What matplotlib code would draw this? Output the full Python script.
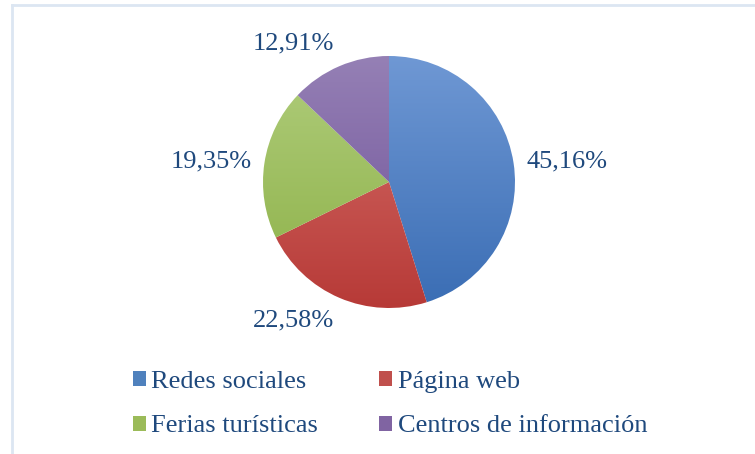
import matplotlib
matplotlib.use('Agg')
import matplotlib.pyplot as plt
import numpy as np
from matplotlib.patches import Patch
from matplotlib.lines import Line2D
from matplotlib.colors import LinearSegmentedColormap

# data
categories = ['Redes sociales', 'Página web', 'Ferias turísticas', 'Centros de información']
values = [45.16, 22.58, 19.35, 12.91]
pct_labels = ['45,16%', '22,58%', '19,35%', '12,91%']

# light (top) / dark (bottom) shades per slice
light = ['#6f98d4', '#d6706b', '#b0cd7c', '#9580b5']
dark = ['#3a6db4', '#b73a37', '#8cb046', '#6d4f97']
legend_colors = ['#4f81bd', '#c0504d', '#9bbb59', '#8064a2']

text_color = '#1f497d'
font = 'Liberation Serif'
fsize = 19

fig = plt.figure(figsize=(7.55, 4.54), dpi=100)

# chart border (top and left edges only visible)
fig.add_artist(Line2D([11.5 / 755, 11.5 / 755], [0, 1 - 5 / 454], color='#dce6f2', lw=2))
fig.add_artist(Line2D([11.5 / 755, 1], [1 - 5 / 454, 1 - 5 / 454], color='#dce6f2', lw=2))

ax = fig.add_axes([263 / 755, (272 - 126) / 454, 252 / 755, 252 / 454])
wedges, texts = ax.pie(values, startangle=90, counterclock=False,
                       labels=pct_labels, labeldistance=1.1,
                       textprops=dict(fontsize=fsize, color=text_color, family=font))
ax.set_xlim(-1, 1)
ax.set_ylim(-1, 1)
ax.axis('off')

grad = np.linspace(1, 0, 256).reshape(-1, 1)
for w, lc, dc in zip(wedges, light, dark):
    w.set_facecolor('none')
    cmap = LinearSegmentedColormap.from_list('g', [dc, lc])
    im = ax.imshow(grad, cmap=cmap, extent=(-1, 1, -1, 1), aspect='auto',
                   vmin=0, vmax=1, zorder=1)
    im.set_clip_path(w)

# push vertical labels off the pie like Excel
for t in texts:
    x, y = t.get_position()
    if y > 0.7:
        t.set_va('bottom')
    elif y < -0.7:
        t.set_va('top')

# legend: rows Redes | Pagina, Ferias | Centros
order = [0, 2, 1, 3]
handles = [Patch(facecolor=legend_colors[i], edgecolor='none') for i in order]
labels = [categories[i] for i in order]
fig.legend(handles, labels, ncol=2, loc='upper left',
           bbox_to_anchor=(133 / 755, 1 - 371 / 454), frameon=False,
           borderpad=0, borderaxespad=0,
           handlelength=0.5, handleheight=0.5, handletextpad=0.2,
           labelspacing=0.85, columnspacing=2.3,
           prop=dict(family=font, size=fsize), labelcolor=text_color)

plt.savefig('out.png', dpi=100)
